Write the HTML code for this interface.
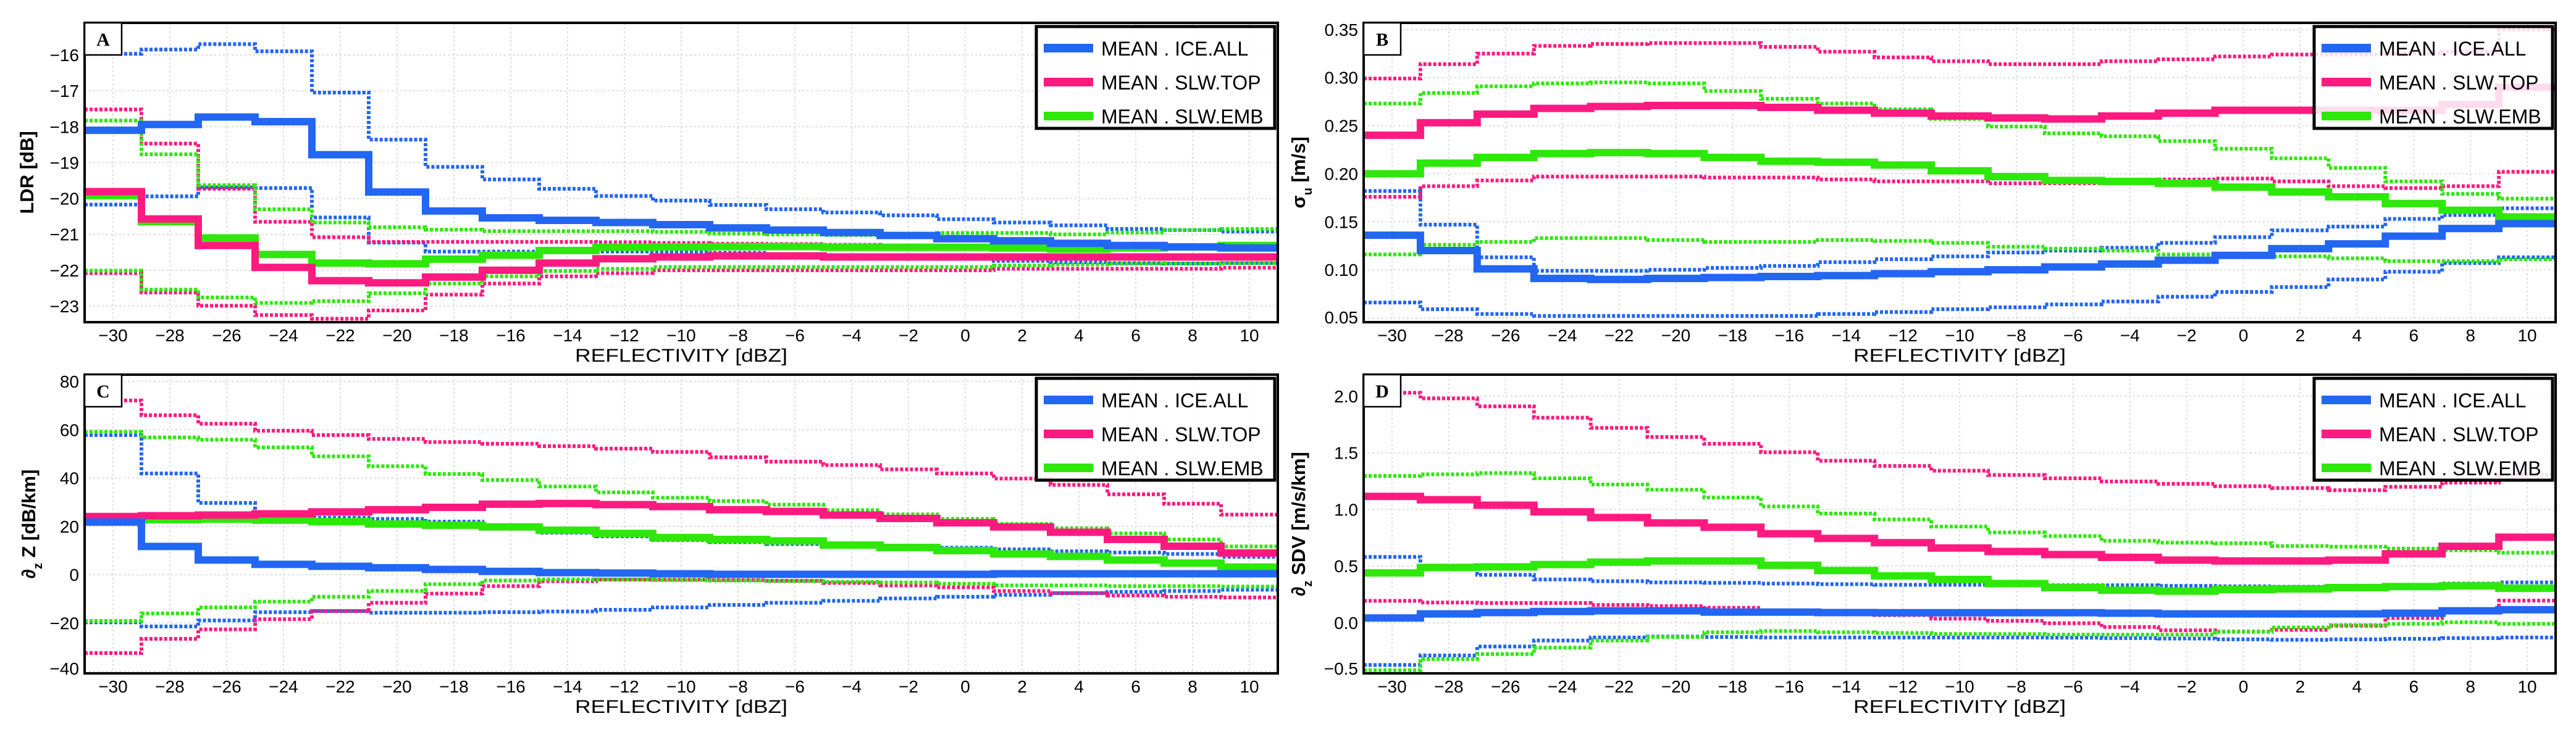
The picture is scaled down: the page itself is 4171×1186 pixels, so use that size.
<!DOCTYPE html>
<html><head><meta charset="utf-8"><style>
html,body{margin:0;padding:0;background:#fff;}
svg{display:block;font-family:"Liberation Sans",sans-serif;}
</style></head><body>
<svg id="chart" width="4171" height="1186" viewBox="0 0 4171 1186" xmlns="http://www.w3.org/2000/svg"></svg>
<script>
const xTicks=[-30,-28,-26,-24,-22,-20,-18,-16,-14,-12,-10,-8,-6,-4,-2,0,2,4,6,8,10];
const binCenters=[-30,-28,-26,-24,-22,-20,-18,-16,-14,-12,-10,-8,-6,-4,-2,0,2,4,6,8,10];
const seriesNames=["MEAN . ICE.ALL","MEAN . SLW.TOP","MEAN . SLW.EMB"];

const aTicks=[-16,-17,-18,-19,-20,-21,-22,-23];
const aBlueMean=[-18.1,-17.94,-17.73,-17.86,-18.78,-19.82,-20.35,-20.54,-20.61,-20.67,-20.73,-20.82,-20.88,-20.95,-21.03,-21.12,-21.18,-21.25,-21.31,-21.35,-21.38];
const aPinkMean=[-19.81,-20.57,-21.31,-21.92,-22.29,-22.35,-22.19,-22.0,-21.8,-21.68,-21.63,-21.6,-21.6,-21.63,-21.63,-21.63,-21.63,-21.63,-21.63,-21.63,-21.63];
const aGreenMean=[-19.92,-20.65,-21.1,-21.56,-21.8,-21.82,-21.69,-21.58,-21.45,-21.36,-21.35,-21.34,-21.34,-21.36,-21.36,-21.36,-21.38,-21.41,-21.38,-21.35,-21.31];
const aBlueHi=[-15.97,-15.85,-15.7,-15.9,-17.05,-18.36,-19.12,-19.47,-19.73,-19.93,-20.06,-20.18,-20.3,-20.39,-20.47,-20.58,-20.67,-20.75,-20.85,-20.88,-20.92];
const aBlueLo=[-20.17,-19.94,-19.69,-19.71,-20.53,-21.23,-21.48,-21.48,-21.48,-21.48,-21.48,-21.51,-21.55,-21.58,-21.61,-21.68,-21.74,-21.78,-21.8,-21.81,-21.8];
const aPinkHi=[-17.52,-18.47,-19.73,-20.65,-21.08,-21.21,-21.21,-21.21,-21.21,-21.22,-21.24,-21.26,-21.27,-21.29,-21.31,-21.31,-21.31,-21.31,-21.31,-21.31,-21.31];
const aPinkLo=[-22.08,-22.62,-22.99,-23.25,-23.35,-23.12,-22.68,-22.37,-22.17,-22.08,-22.0,-22.0,-22.0,-22.0,-22.0,-22.0,-21.96,-21.96,-21.96,-21.96,-21.93];
const aGreenHi=[-17.83,-18.77,-19.63,-20.3,-20.67,-20.8,-20.87,-20.91,-20.91,-20.91,-20.93,-20.98,-21.0,-21.02,-20.98,-20.96,-20.96,-21.0,-20.95,-20.88,-20.85];
const aGreenLo=[-22.01,-22.54,-22.76,-22.91,-22.86,-22.64,-22.37,-22.17,-22.02,-21.96,-21.91,-21.91,-21.91,-21.91,-21.91,-21.91,-21.87,-21.84,-21.82,-21.81,-21.8];

const bTicks=[0.35,0.30,0.25,0.20,0.15,0.10,0.05];
const bBlueMean=[0.136,0.120,0.101,0.091,0.090,0.091,0.092,0.093,0.094,0.096,0.098,0.100,0.103,0.106,0.110,0.115,0.122,0.127,0.135,0.143,0.148];
const bPinkMean=[0.240,0.253,0.262,0.268,0.270,0.271,0.271,0.269,0.266,0.263,0.260,0.258,0.257,0.260,0.263,0.266,0.266,0.266,0.266,0.272,0.290];
const bGreenMean=[0.200,0.211,0.217,0.221,0.222,0.221,0.217,0.213,0.212,0.209,0.203,0.197,0.193,0.192,0.190,0.186,0.181,0.176,0.169,0.162,0.155];
const bBlueHi=[0.182,0.147,0.113,0.099,0.099,0.100,0.102,0.104,0.108,0.111,0.114,0.118,0.120,0.123,0.128,0.134,0.141,0.145,0.153,0.157,0.164];
const bBlueLo=[0.066,0.059,0.054,0.052,0.052,0.052,0.052,0.052,0.054,0.056,0.059,0.061,0.064,0.067,0.072,0.077,0.082,0.090,0.098,0.107,0.113];
const bPinkHi=[0.299,0.314,0.325,0.333,0.335,0.336,0.336,0.332,0.327,0.321,0.317,0.314,0.314,0.317,0.319,0.322,0.324,0.324,0.325,0.327,0.350];
const bPinkLo=[0.176,0.187,0.193,0.197,0.197,0.197,0.196,0.196,0.194,0.192,0.192,0.190,0.190,0.192,0.194,0.195,0.192,0.187,0.185,0.187,0.202];
const bGreenHi=[0.273,0.284,0.291,0.294,0.295,0.294,0.286,0.278,0.273,0.267,0.257,0.249,0.242,0.239,0.234,0.226,0.216,0.206,0.192,0.179,0.174];
const bGreenLo=[0.116,0.126,0.129,0.133,0.133,0.131,0.129,0.129,0.131,0.130,0.128,0.124,0.122,0.120,0.116,0.114,0.114,0.112,0.109,0.109,0.111];

const cTicks=[80,60,40,20,0,-20,-40];
const cBlueMean=[21.8,11.7,6.1,4.3,3.5,2.9,2.2,1.4,0.9,0.7,0.4,0.2,0.2,0.2,0.2,0.2,0.4,0.4,0.4,0.4,0.4];
const cPinkMean=[24.1,24.4,24.7,25.2,26.0,26.9,27.9,29.2,29.5,29.0,28.2,26.9,26.2,24.7,23.3,21.5,19.8,17.6,14.6,11.8,9.0];
const cGreenMean=[22.5,22.8,23.0,22.6,22.0,21.0,20.5,19.8,18.4,17.1,15.4,14.6,14.0,12.3,11.3,10.0,8.6,7.6,6.1,4.8,3.2];
const cBlueHi=[57.8,41.9,29.7,25.7,23.6,23.1,22.0,19.4,17.4,15.9,14.4,13.5,12.7,12.0,11.5,11.2,10.5,9.7,9.2,8.6,7.4];
const cBlueLo=[-19.7,-21.4,-18.9,-15.5,-15.0,-15.7,-15.7,-15.5,-15.2,-14.5,-13.5,-12.5,-11.6,-10.8,-9.8,-9.1,-8.3,-7.6,-7.1,-6.7,-6.2];
const cPinkHi=[72.1,66.0,62.5,59.6,57.8,56.2,54.9,54.2,53.2,52.2,50.8,48.6,46.8,45.4,43.6,41.9,39.8,37.2,33.3,29.4,24.9];
const cPinkLo=[-32.4,-26.5,-22.6,-18.4,-15.0,-11.6,-7.8,-4.7,-2.7,-2.0,-2.0,-2.2,-2.5,-3.4,-4.4,-5.2,-6.7,-7.6,-8.6,-9.1,-9.4];
const cGreenHi=[59.1,56.8,55.9,52.7,49.0,44.9,41.7,39.2,36.5,34.1,31.9,30.5,29.0,26.7,25.0,23.1,21.0,19.2,17.1,14.6,11.7];
const cGreenLo=[-19.1,-16.0,-13.5,-11.1,-9.1,-6.7,-3.9,-2.4,-1.9,-1.9,-2.2,-2.4,-2.6,-2.9,-3.2,-3.7,-4.4,-4.4,-4.7,-4.7,-4.9];

const dTicks=[2.0,1.5,1.0,0.5,0.0,-0.5];
const dBlueMean=[0.042,0.078,0.090,0.099,0.105,0.105,0.094,0.094,0.090,0.088,0.088,0.088,0.088,0.084,0.078,0.078,0.078,0.078,0.084,0.105,0.115];
const dPinkMean=[1.115,1.086,1.038,0.979,0.929,0.881,0.843,0.786,0.744,0.707,0.660,0.629,0.602,0.577,0.553,0.545,0.545,0.553,0.608,0.675,0.755];
const dGreenMean=[0.44,0.488,0.493,0.514,0.535,0.545,0.545,0.507,0.461,0.413,0.382,0.346,0.310,0.287,0.279,0.294,0.298,0.310,0.319,0.325,0.304];
const dBlueHi=[0.581,0.5,0.423,0.382,0.367,0.356,0.352,0.346,0.34,0.335,0.335,0.335,0.331,0.331,0.325,0.321,0.318,0.321,0.335,0.346,0.356];
const dBlueLo=[-0.373,-0.289,-0.21,-0.157,-0.13,-0.122,-0.126,-0.13,-0.13,-0.13,-0.13,-0.13,-0.132,-0.136,-0.14,-0.147,-0.151,-0.147,-0.142,-0.136,-0.13];
const dPinkHi=[2.03,1.98,1.91,1.81,1.72,1.64,1.58,1.505,1.43,1.384,1.342,1.304,1.275,1.247,1.226,1.205,1.189,1.17,1.20,1.237,1.306];
const dPinkLo=[0.193,0.178,0.174,0.174,0.157,0.147,0.132,0.105,0.084,0.067,0.036,0.017,-0.004,-0.038,-0.067,-0.078,-0.063,-0.027,0.042,0.115,0.195];
const dGreenHi=[1.296,1.31,1.321,1.275,1.22,1.174,1.105,1.027,0.964,0.912,0.849,0.797,0.765,0.723,0.707,0.702,0.677,0.671,0.654,0.639,0.618];
const dGreenLo=[-0.419,-0.321,-0.277,-0.22,-0.157,-0.126,-0.084,-0.073,-0.084,-0.09,-0.099,-0.1,-0.105,-0.105,-0.105,-0.08,-0.042,-0.021,-0.01,0.004,-0.01];

const NS="http://www.w3.org/2000/svg";
const svg=document.getElementById('chart');
const COL={blue:"#2266f2",pink:"#ff1a80",green:"#2ee80a"};
function mk(tag,attrs,parent){const e=document.createElementNS(NS,tag);for(const k in attrs)e.setAttribute(k,attrs[k]);(parent||svg).appendChild(e);return e;}

const panels=[
 {id:"a",letter:"A",L:137,R:2069,T:37,B:522,y0:-15.106,y1:-23.447,ticks:aTicks,fmt:v=>String(v).replace('-','\u2212'),
  ylab:[["LDR [dB]",null]],ylx:54,
  series:[["blue",aBlueMean,aBlueHi,aBlueLo],["pink",aPinkMean,aPinkHi,aPinkLo],["green",aGreenMean,aGreenHi,aGreenLo]]},
 {id:"b",letter:"B",L:2208,R:4138,T:37,B:522,y0:0.357,y1:0.0455,ticks:bTicks,fmt:v=>v.toFixed(2),
  ylab:[["\u03C3",null],["u","sub"],[" [m/s]",null]],ylx:2113,
  series:[["blue",bBlueMean,bBlueHi,bBlueLo],["pink",bPinkMean,bPinkHi,bPinkLo],["green",bGreenMean,bGreenHi,bGreenLo]]},
 {id:"c",letter:"C",L:137,R:2069,T:607,B:1091,y0:82.8,y1:-40.8,ticks:cTicks,fmt:v=>String(v).replace('-','\u2212'),
  ylab:[["\u2202",null],["z","sub"],[" Z  [dB/km]",null]],ylx:57,
  series:[["blue",cBlueMean,cBlueHi,cBlueLo],["pink",cPinkMean,cPinkHi,cPinkLo],["green",cGreenMean,cGreenHi,cGreenLo]]},
 {id:"d",letter:"D",L:2208,R:4138,T:607,B:1091,y0:2.19,y1:-0.447,ticks:dTicks,fmt:v=>v.toFixed(1).replace('-','\u2212'),
  ylab:[["\u2202",null],["z","sub"],[" SDV  [m/s/km]",null]],ylx:2113,
  series:[["blue",dBlueMean,dBlueHi,dBlueLo],["pink",dPinkMean,dPinkHi,dPinkLo],["green",dGreenMean,dGreenHi,dGreenLo]]}
];

function stepPath(vals,xs,ys){
  let d="";
  vals.forEach((v,i)=>{
    const xa=xs(binCenters[i]-1),xb=xs(binCenters[i]+1),y=ys(v);
    d+=(i===0?"M"+xa+" "+y:" V"+y)+" H"+xb;
  });
  return d;
}

panels.forEach(p=>{
  const g=mk('g',{});
  
  
  const xs=v=>p.L+(v+31)/42*(p.R-p.L);
  const ys=v=>p.T+(p.y0-v)/(p.y0-p.y1)*(p.B-p.T);
  const cp=mk('clipPath',{id:'clip-'+p.id},g);
  mk('rect',{x:p.L,y:p.T,width:p.R-p.L,height:p.B-p.T},cp);
  const grid=mk('g',{},g);
  
  
  xTicks.forEach(t=>{mk('line',{x1:xs(t),x2:xs(t),y1:p.T,y2:p.B,stroke:"#dcdcdc","stroke-width":2,"stroke-dasharray":"3 4"},grid);});
  p.ticks.forEach(t=>{const y=ys(t);if(y>p.T+2&&y<p.B-2)mk('line',{x1:p.L,x2:p.R,y1:y,y2:y,stroke:"#dcdcdc","stroke-width":2,"stroke-dasharray":"3 4"},grid);});
  const sg=mk('g',{'clip-path':'url(#clip-'+p.id+')'},g);
  p.series.forEach(s=>{
    [s[2],s[3]].forEach((arr,k)=>{
      const e=mk('path',{d:stepPath(arr,xs,ys),fill:"none",stroke:COL[s[0]],"stroke-width":6,"stroke-dasharray":"5 3"},sg);
      
      
    });
  });
  ["green","pink","blue"].forEach(c=>{
    const s=p.series.find(q=>q[0]===c);
    const e=mk('path',{d:stepPath(s[1],xs,ys),fill:"none",stroke:COL[c],"stroke-width":12},sg);
    
    
  });
  const fr=mk('rect',{x:p.L,y:p.T,width:p.R-p.L,height:p.B-p.T,fill:"none",stroke:"#000","stroke-width":4},g);
  
  
  xTicks.forEach(t=>{
    const e=mk('text',{x:xs(t),y:p.B+31,"font-size":28,"text-anchor":"middle",fill:"#000"},g);
    e.textContent=String(t).replace('-','\u2212');
    
    
  });
  const xl=mk('text',{x:(p.L+p.R)/2,y:p.B+64,"font-size":30,"text-anchor":"middle",fill:"#000",textLength:344,lengthAdjust:"spacingAndGlyphs"},g);
  xl.textContent="REFLECTIVITY [dBZ]";
  
  
  p.ticks.forEach(t=>{
    let y=ys(t)+10;
    if(y>p.B+2)y=p.B+2;
    if(y<p.T+18)y=p.T+18;
    const e=mk('text',{x:p.L-9,y:y,"font-size":28,"text-anchor":"end",fill:"#000"},g);
    e.textContent=p.fmt(t);
    
    
  });
  const cy=(p.T+p.B)/2;
  const yl=mk('text',{x:0,y:0,"font-size":31,"font-weight":"600","text-anchor":"middle",fill:"#000",transform:"translate("+p.ylx+","+cy+") rotate(-90)"},g);
  p.ylab.forEach(part=>{const ts=mk('tspan',{},yl);ts.textContent=part[0];if(part[1]==='sub'){ts.setAttribute('baseline-shift','sub');ts.setAttribute('font-size','20');}});
  
  
  const lb=mk('g',{},g);
  
  
  mk('rect',{x:p.L,y:p.T,width:60,height:52,fill:"#fff",stroke:"#000","stroke-width":2.5},lb);
  const lt=mk('text',{x:p.L+30,y:p.T+37,"font-size":30,"font-weight":"bold","text-anchor":"middle","font-family":"Liberation Serif, serif",fill:"#000"},lb);
  lt.textContent=p.letter;
  const lg=mk('g',{},g);
  
  
  const lx=p.R-391, ly=p.T+6;
  mk('rect',{x:lx,y:ly,width:386,height:165,fill:"#fff","fill-opacity":0.85,stroke:"#000","stroke-width":5},lg);
  ["blue","pink","green"].forEach((c,i)=>{
    const ent=mk('g',{},lg);
    
    
    const yy=ly+28+i*55;
    mk('rect',{x:lx+12,y:yy,width:80,height:14,fill:COL[c]},ent);
    const t=mk('text',{x:lx+105,y:yy+19,"font-size":32,fill:"#000"},ent);
    t.textContent=seriesNames[i];
  });
});
</script>
</body></html>
